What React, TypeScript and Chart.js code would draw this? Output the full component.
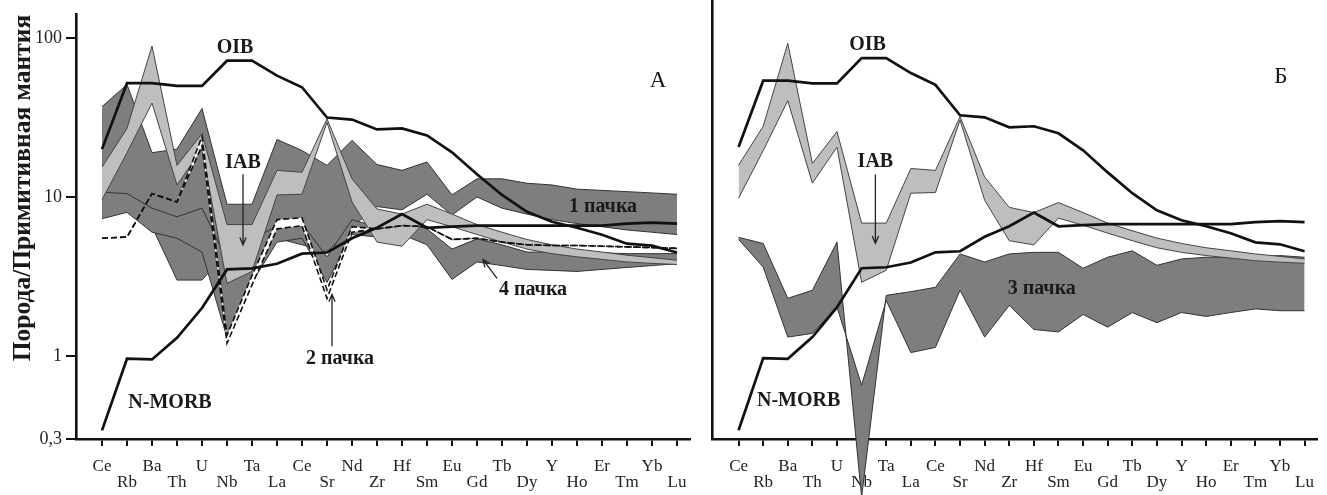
import React, { useEffect, useRef } from "react";
import { Chart, registerables } from "chart.js";

Chart.register(...registerables);

// ---------- data ----------
const categories = ["Ce", "Rb", "Ba", "Th", "U", "Nb", "Ta", "La", "Ce", "Sr", "Nd", "Zr", "Hf", "Sm", "Eu", "Gd", "Tb", "Dy", "Y", "Ho", "Er", "Tm", "Yb", "Lu"];
const yTickValues = [0.3, 1, 10, 100];
const yTickLabels = ["0,3", "1", "10", "100"];
const yTitle = "Порода/Примитивная мантия";

const oib = [20, 52, 52, 50, 50, 72, 72, 58, 49, 31.6, 30.7, 26.6, 27, 24.4, 19.1, 13.9, 10.3, 8.06, 6.98, 6.4, 5.79, 5.08, 4.94, 4.47];
const nmorb = [0.34, 0.96, 0.95, 1.3, 2.0, 3.5, 3.55, 3.8, 4.4, 4.47, 5.5, 6.4, 7.8, 6.4, 6.5, 6.6, 6.6, 6.6, 6.6, 6.6, 6.6, 6.8, 6.9, 6.8];

const iabUpper = [15.4, 27, 89, 15.8, 25, 6.7, 6.7, 14.7, 14.3, 31, 13, 8.4, 7.8, 9.0, 7.8, 6.7, 6.0, 5.4, 5.0, 4.7, 4.5, 4.3, 4.15, 4.0];
const iabLower = [9.6, 19, 39, 11.9, 20, 2.86, 3.4, 10.3, 10.4, 29.5, 9.3, 5.2, 4.9, 7.2, 6.5, 5.8, 5.2, 4.7, 4.4, 4.2, 4.05, 3.9, 3.82, 3.76];

const pack1Upper = [37, 51, 19, 20, 36, 9, 9, 23, 19.6, 15.8, 22.7, 16, 14.7, 16.6, 10.3, 13, 13, 12.2, 11.9, 11.2, 11, 10.8, 10.6, 10.4];
const pack1Lower = [7.5, 9.5, 6.5, 3.0, 3.0, 4.5, 4.5, 5.5, 5.0, 4.5, 6.5, 8.7, 8.3, 10.4, 7.7, 10.0, 8.5, 7.8, 7.2, 6.8, 6.5, 6.2, 6.0, 5.8];

const pack4Upper = [10.7, 10.5, 8.5, 7.5, 8.5, 4.0, 5.5, 6.5, 6.8, 4.2, 7.2, 6.5, 7.0, 6.3, 4.7, 5.45, 5.0, 4.5, 4.5, 4.5, 4.45, 4.4, 4.4, 4.4];
const pack4Lower = [7.3, 8.0, 6.0, 5.5, 4.5, 1.3, 2.9, 5.2, 5.5, 2.9, 5.8, 5.6, 5.8, 5.0, 3.03, 3.9, 3.7, 3.5, 3.45, 3.4, 3.5, 3.6, 3.7, 3.8];

const pack2Upper = [5.5, 5.6, 10.5, 9.3, 24, 1.35, 3.2, 7.2, 7.4, 2.6, 6.5, 6.3, 6.6, 6.5, 5.4, 5.5, 5.2, 5.0, 4.95, 4.95, 4.9, 4.85, 4.8, 4.75];
const pack2Lower = [5.5, 5.6, 10.5, 9.3, 21, 1.2, 2.8, 6.3, 6.6, 2.3, 6.0, 6.3, 6.6, 6.5, 5.4, 5.5, 5.2, 5.0, 4.95, 4.95, 4.9, 4.85, 4.8, 4.75];

const pack3A = [5.46, 5.0, 2.27, 2.55, 5.1, 0.13, 2.37, 2.5, 2.66, 4.3, 3.83, 4.3, 4.4, 4.4, 3.5, 4.1, 4.5, 3.65, 4.0, 4.1, 4.1, 4.1, 4.2, 4.1];
const pack3B = [5.3, 3.56, 1.3, 1.37, 2.0, 0.65, 2.2, 1.04, 1.12, 2.55, 1.3, 2.05, 1.45, 1.4, 1.8, 1.5, 1.85, 1.6, 1.85, 1.75, 1.85, 1.95, 1.9, 1.9];

// ---------- helpers ----------
const FONT = '"Liberation Serif", "Times New Roman", serif';
const pts = (arr: number[]) => arr.map((v, i) => ({ x: i, y: v }));
const DARK = "#7e7e7e";
const LIGHT = "#bebebe";

function lineDs(arr: number[], order: number, extra: any = {}) {
  return { data: pts(arr), borderColor: "#111", borderWidth: 2.7, fill: false, pointRadius: 0, tension: 0, order, ...extra };
}
function bandDs(lower: number[], upper: number[], color: string, stroke: string, order: number, extra: any = {}) {
  return [
    { data: pts(lower), borderColor: stroke, borderWidth: 1, fill: false, pointRadius: 0, tension: 0, order, ...extra },
    { data: pts(upper), borderColor: stroke, borderWidth: 1, backgroundColor: color, fill: "-1", pointRadius: 0, tension: 0, order: order + 0.5, ...extra },
  ];
}

type Ann =
  | { kind: "text"; text: string; x: number; y: number; font: string }
  | { kind: "arrow"; x1: number; y1: number; x2: number; y2: number }
  | { kind: "vtitle"; text: string; px: number; py: number; font: string };

function annotPlugin(items: Ann[]) {
  return {
    id: "annot",
    afterDatasetsDraw(chart: any) {
      const ctx = chart.ctx;
      const xs = chart.scales.x;
      const ys = chart.scales.y;
      ctx.save();
      for (const it of items) {
        if (it.kind === "text") {
          ctx.font = it.font;
          ctx.fillStyle = "#1a1a1a";
          ctx.textAlign = "center";
          ctx.textBaseline = "middle";
          ctx.fillText(it.text, xs.getPixelForValue(it.x), ys.getPixelForValue(it.y));
        } else if (it.kind === "vtitle") {
          ctx.save();
          ctx.translate(it.px, it.py);
          ctx.rotate(-Math.PI / 2);
          ctx.font = it.font;
          ctx.fillStyle = "#1a1a1a";
          ctx.textAlign = "center";
          ctx.textBaseline = "middle";
          ctx.fillText(it.text, 0, 0);
          ctx.restore();
        } else {
          const x1 = xs.getPixelForValue(it.x1), y1 = ys.getPixelForValue(it.y1);
          const x2 = xs.getPixelForValue(it.x2), y2 = ys.getPixelForValue(it.y2);
          ctx.strokeStyle = "#222";
          ctx.lineWidth = 1.3;
          ctx.beginPath();
          ctx.moveTo(x1, y1);
          ctx.lineTo(x2, y2);
          const a = Math.atan2(y2 - y1, x2 - x1);
          const L = 8;
          ctx.moveTo(x2 - L * Math.cos(a - 0.4), y2 - L * Math.sin(a - 0.4));
          ctx.lineTo(x2, y2);
          ctx.lineTo(x2 - L * Math.cos(a + 0.4), y2 - L * Math.sin(a + 0.4));
          ctx.stroke();
        }
      }
      ctx.restore();
    },
  };
}

const unclipPlugin = {
  id: "unclip",
  beforeDatasetsDraw(chart: any) {
    chart.$savedBottom = chart.chartArea.bottom;
    chart.chartArea.bottom = chart.height;
  },
  afterDatasetsDraw(chart: any) {
    if (chart.$savedBottom !== undefined) chart.chartArea.bottom = chart.$savedBottom;
  },
};

const LABEL = `bold 20px ${FONT}`;

const annA: Ann[] = [
  { kind: "vtitle", text: yTitle, px: 23, py: 188, font: `bold 25.5px ${FONT}` },
  { kind: "text", text: "OIB", x: 5.32, y: 86.6, font: LABEL },
  { kind: "text", text: "IAB", x: 5.64, y: 16.5, font: LABEL },
  { kind: "arrow", x1: 5.64, y1: 13.9, x2: 5.64, y2: 5.0 },
  { kind: "text", text: "N-MORB", x: 2.72, y: 0.508, font: LABEL },
  { kind: "text", text: "А", x: 22.24, y: 53.8, font: `23px ${FONT}` },
  { kind: "text", text: "1 пачка", x: 20.04, y: 8.66, font: LABEL },
  { kind: "text", text: "2 пачка", x: 9.52, y: 0.958, font: LABEL },
  { kind: "arrow", x1: 9.2, y1: 1.15, x2: 9.2, y2: 2.44 },
  { kind: "text", text: "4 пачка", x: 17.24, y: 2.62, font: LABEL },
  { kind: "arrow", x1: 15.8, y1: 3.07, x2: 15.24, y2: 4.04 },
];
const annB: Ann[] = [
  { kind: "text", text: "OIB", x: 5.24, y: 86.6, font: LABEL },
  { kind: "text", text: "IAB", x: 5.56, y: 16.1, font: LABEL },
  { kind: "arrow", x1: 5.56, y1: 13.5, x2: 5.56, y2: 5.0 },
  { kind: "text", text: "N-MORB", x: 2.44, y: 0.52, font: LABEL },
  { kind: "text", text: "Б", x: 22.04, y: 54.5, font: `23px ${FONT}` },
  { kind: "text", text: "3 пачка", x: 12.32, y: 2.62, font: LABEL },
];

function xScale(min: number, max: number, extra: any = {}) {
  return {
    type: "linear",
    min,
    max,
    afterBuildTicks: (s: any) => {
      s.ticks = categories.map((_, i) => ({ value: i }));
    },
    afterFit: (s: any) => {
      s.height = 56;
    },
    ticks: {
      autoSkip: false,
      maxRotation: 0,
      color: "#222",
      padding: 13,
      font: { family: FONT, size: 17, lineHeight: 0.94 },
      callback: (v: any) => {
        const i = Math.round(v);
        return i % 2 === 0 ? [categories[i], ""] : ["", categories[i]];
      },
    },
    grid: { display: true, drawOnChartArea: false, drawTicks: true, tickLength: 7, color: "#111", lineWidth: 2 },
    border: { display: true, color: "#111", width: 2.6 },
    ...extra,
  };
}

function makeConfig(panel: "A" | "B"): any {
  const datasets: any[] = [];
  if (panel === "A") {
    datasets.push(...bandDs(pack1Lower, pack1Upper, DARK, "#333", 90));
    datasets.push(...bandDs(pack4Lower, pack4Upper, DARK, "#333", 80));
    datasets.push(...bandDs(iabLower, iabUpper, LIGHT, "#444", 70));
    datasets.push(...bandDs(pack2Lower, pack2Upper, "#ffffff", "#111", 60, { borderDash: [6, 3], borderWidth: 1.6 }));
    datasets.push(lineDs(nmorb, 20));
    datasets.push(lineDs(oib, 10));
  } else {
    datasets.push(...bandDs(pack3B, pack3A, DARK, "#333", 90, { clip: false }));
    datasets.push(...bandDs(iabLower, iabUpper, LIGHT, "#444", 70));
    datasets.push(lineDs(nmorb, 20));
    datasets.push(lineDs(oib, 10));
  }
  const isA = panel === "A";
  const yScale: any = {
    type: "logarithmic",
    min: 0.3,
    max: isA ? 140 : 166,
    afterBuildTicks: (s: any) => {
      s.ticks = yTickValues.map((v) => ({ value: v }));
    },
    afterFit: (s: any) => {
      s.width = isA ? 76 : 12;
    },
    ticks: {
      display: isA,
      color: "#222",
      padding: 4,
      font: { family: FONT, size: 18 },
      callback: (v: any) => {
        const idx = yTickValues.findIndex((t) => Math.abs(t - v) < 1e-6);
        return idx >= 0 ? yTickLabels[idx] : "";
      },
    },
    grid: { display: isA, drawOnChartArea: false, drawTicks: true, tickLength: 10, color: "#111", lineWidth: 2 },
    border: { display: true, color: "#111", width: 2.6 },
  };
  if (!isA) yScale.clip = false;
  return {
    type: "line",
    data: { datasets },
    options: {
      animation: false,
      responsive: false,
      events: [],
      layout: { padding: isA ? { left: 0, right: 10, top: 13, bottom: 0 } : { left: 0, right: 0, top: 0, bottom: 0 } },
      plugins: {
        legend: { display: false },
        tooltip: { enabled: false },
        filler: { drawTime: "beforeDatasetDraw" },
      },
      scales: {
        x: isA ? xScale(-1.04, 23.52) : xScale(-1.08, 23.52, { clip: false, border: { display: true, color: "#111", width: 2.6, z: -1 } }),
        y: yScale,
      },
    },
    plugins: isA ? [annotPlugin(annA)] : [unclipPlugin, annotPlugin(annB)],
  };
}

function Panel({ panel, left, width }: { panel: "A" | "B"; left: number; width: number }) {
  const ref = useRef<HTMLCanvasElement | null>(null);
  useEffect(() => {
    if (!ref.current) return;
    Chart.defaults.font.family = FONT;
    const chart = new Chart(ref.current, makeConfig(panel));
    return () => chart.destroy();
  }, [panel]);
  return <canvas ref={ref} width={width} height={495} style={{ position: "absolute", left, top: 0, width, height: 495 }} />;
}

export default function App() {
  return (
    <div style={{ position: "fixed", left: 0, top: 0, width: 1327, height: 495, background: "#ffffff", overflow: "hidden" }}>
      <Panel panel="A" left={0} width={700} />
      <Panel panel="B" left={700} width={627} />
    </div>
  );
}
